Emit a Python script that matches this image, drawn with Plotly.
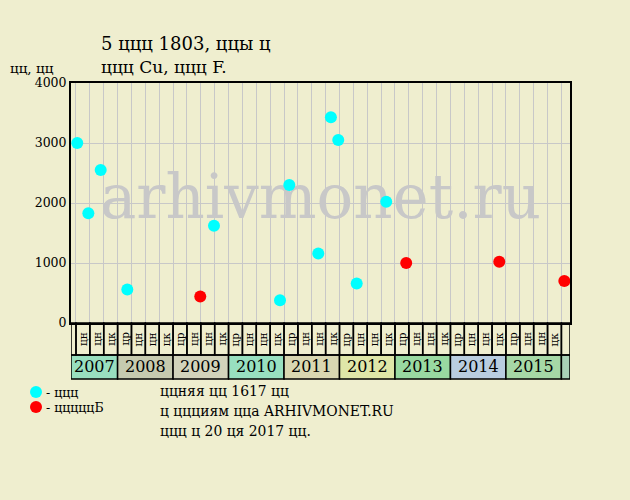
import plotly.graph_objects as go

# ---------------- data ----------------
cyan_x = [0.09, 0.89, 1.78, 3.70, 9.95, 14.71, 15.38, 17.47, 18.38, 18.91, 20.24, 22.37]
cyan_y = [3000, 1830, 2550, 560, 1620, 380, 2300, 1160, 3430, 3050, 660, 2020]
red_x = [8.96, 23.81, 30.52, 35.21]
red_y = [440, 1000, 1020, 700]

years = ["2007", "2008", "2009", "2010", "2011", "2012", "2013", "2014", "2015", ""]
year_start = [-0.36, 3, 7, 11, 15, 19, 23, 27, 31, 35]
year_end = [3, 7, 11, 15, 19, 23, 27, 31, 35, 35.62]
year_colors = ["#99dfbf", "#c6caaf", "#d2d3bb", "#98e0c0", "#d9d7b1",
               "#dfe6a8", "#99d9a1", "#b9cde0", "#a6d8a6", "#a9d1b6"]
cat_labels = (["цн", "цн", "цк"] + ["цр", "цн", "цн", "цк"] * 8)

y_ticks = [0, 1000, 2000, 3000, 4000]

title1 = "5 ццц 1803, ццы ц"
title2 = "ццц Cu, ццц F."
y_title = "цц, цц"
legend_cyan = "- ццц"
legend_red = "- цццццБ"
notes = ["ццняя цц 1617 цц", "ц ццциям цца ARHIVMONET.RU", "ццц ц 20 ця 2017 цц."]
watermark = "arhivmonet.ru"

# ---------------- style ----------------
BG = "#efeecf"
FONT = "DejaVu Serif"
X_RANGE = [-0.36, 35.62]

fig = go.Figure()

# watermark (under the points)
fig.add_trace(go.Scatter(x=[17.63], y=[2000], mode="text", text=[watermark],
                         textfont=dict(family=FONT, size=61, color="#c8c8c8"),
                         textposition="middle center", hoverinfo="skip",
                         showlegend=False, cliponaxis=False))

fig.add_trace(go.Scatter(x=cyan_x, y=cyan_y, mode="markers",
                         marker=dict(color="#00ffff", size=12, line=dict(width=0)),
                         showlegend=False))
fig.add_trace(go.Scatter(x=red_x, y=red_y, mode="markers",
                         marker=dict(color="#ff0000", size=12, line=dict(width=0)),
                         showlegend=False))

shapes = []
annotations = []

CAT_TOP, CAT_BOT = 0.0, -0.1333
YR_TOP, YR_BOT = -0.1333, -0.2333
shapes.append(dict(type="rect", xref="x", yref="paper", x0=X_RANGE[0], x1=0,
                   y0=CAT_BOT, y1=CAT_TOP, line=dict(color="black", width=1.5)))
shapes.append(dict(type="rect", xref="x", yref="paper", x0=35, x1=X_RANGE[1],
                   y0=CAT_BOT, y1=CAT_TOP, line=dict(color="black", width=1.5)))
for k, lab in enumerate(cat_labels):
    shapes.append(dict(type="rect", xref="x", yref="paper", x0=k, x1=k + 1,
                       y0=CAT_BOT, y1=CAT_TOP, line=dict(color="black", width=1.5)))
    annotations.append(dict(x=k + 0.5, y=(CAT_TOP + CAT_BOT) / 2, xref="x", yref="paper",
                            xanchor="center", yanchor="middle",
                            text=lab, textangle=-90, showarrow=False,
                            font=dict(family=FONT, size=10.5, color="black")))
for yr, s, e, c in zip(years, year_start, year_end, year_colors):
    shapes.append(dict(type="rect", xref="x", yref="paper", x0=s, x1=e,
                       y0=YR_BOT, y1=YR_TOP, fillcolor=c,
                       line=dict(color="black", width=1.5), layer="below"))
    if yr:
        annotations.append(dict(x=(s + e) / 2, y=(YR_TOP + YR_BOT) / 2,
                                xref="x", yref="paper", xanchor="center", yanchor="middle",
                                text=yr, showarrow=False,
                                font=dict(family=FONT, size=16, color="black")))

# titles
annotations.append(dict(x=(99 - 71) / 499, y=(323 - 44) / 240, xref="paper", yref="paper",
                        xanchor="left", yanchor="middle", text=title1, showarrow=False,
                        font=dict(family=FONT, size=18, color="black")))
annotations.append(dict(x=(99 - 71) / 499, y=(323 - 67) / 240, xref="paper", yref="paper",
                        xanchor="left", yanchor="middle", text=title2, showarrow=False,
                        font=dict(family=FONT, size=17, color="black")))
annotations.append(dict(x=(8 - 71) / 499, y=(323 - 68) / 240, xref="paper", yref="paper",
                        xanchor="left", yanchor="middle", text=y_title, showarrow=False,
                        font=dict(family=FONT, size=13.5, color="black")))

# legend
for txt, col, ypx in [(legend_cyan, "#00ffff", 392), (legend_red, "#ff0000", 407)]:
    yp = (323 - ypx) / 240
    xp = (36 - 71) / 499
    shapes.append(dict(type="circle", xref="paper", yref="paper",
                       xsizemode="pixel", ysizemode="pixel", xanchor=xp, yanchor=yp,
                       x0=-6, x1=6, y0=-6, y1=6, fillcolor=col, line=dict(width=0)))
    annotations.append(dict(x=(44 - 71) / 499, y=yp, xref="paper", yref="paper",
                            xanchor="left", yanchor="middle", text=txt, showarrow=False,
                            font=dict(family=FONT, size=12.5, color="black")))

for txt, ypx in zip(notes, [391, 411, 431]):
    annotations.append(dict(x=(158 - 71) / 499, y=(323 - ypx) / 240, xref="paper", yref="paper",
                            xanchor="left", yanchor="middle", text=txt, showarrow=False,
                            font=dict(family=FONT, size=13.9, color="black")))

fig.update_layout(
    width=630, height=500,
    margin=dict(l=71, r=60, t=83, b=177),
    paper_bgcolor=BG, plot_bgcolor=BG,
    shapes=shapes, annotations=annotations,
    showlegend=False,
    xaxis=dict(range=X_RANGE, tickvals=list(range(36)), showticklabels=False,
               showgrid=True, gridcolor="#c8c8c8", gridwidth=1, zeroline=False,
               showline=True, linecolor="black", linewidth=2, mirror=True, ticks=""),
    yaxis=dict(range=[0, 4000], tickvals=y_ticks, showgrid=True, gridcolor="#c8c8c8",
               gridwidth=1, zeroline=False, showline=True, linecolor="black",
               linewidth=2, mirror=True, ticks="",
               tickfont=dict(family=FONT, size=12.5, color="black")),
)

fig.write_html("out.html", post_script="document.body.style.margin='0';",
               config={"displayModeBar": False})
